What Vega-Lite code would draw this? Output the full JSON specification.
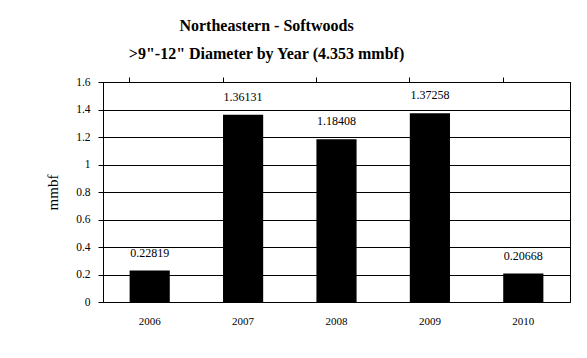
{
  "$schema": "https://vega.github.io/schema/vega-lite/v6.json",
  "autosize": {"type": "none"},
  "width": 467,
  "height": 220,
  "padding": {"left": 103, "top": 82, "right": 17, "bottom": 56},
  "background": "white",
  "title": {
    "text": ["Northeastern - Softwoods", ">9\"-12\" Diameter by Year (4.353 mmbf)"],
    "font": "Liberation Serif",
    "fontSize": 16,
    "fontWeight": "bold",
    "color": "black",
    "anchor": "middle",
    "dx": -70,
    "lineHeight": 28,
    "offset": 14
  },
  "data": {
    "values": [
      {"year": "2006", "mmbf": 0.22819, "label": "0.22819"},
      {"year": "2007", "mmbf": 1.36131, "label": "1.36131"},
      {"year": "2008", "mmbf": 1.18408, "label": "1.18408"},
      {"year": "2009", "mmbf": 1.37258, "label": "1.37258"},
      {"year": "2010", "mmbf": 0.20668, "label": "0.20668"}
    ]
  },
  "encoding": {
    "x": {"field": "year", "type": "nominal", "sort": null,
      "scale": {"paddingInner": 0.57, "paddingOuter": 0.285}},
    "y": {"field": "mmbf", "type": "quantitative",
      "scale": {"domain": [0, 1.6], "nice": false},
      "axis": {"title": "mmbf", "titleFont": "Liberation Serif", "titleFontSize": 15,
        "titleFontWeight": "normal", "titleColor": "black", "titlePadding": 15,
        "values": [0, 0.2, 0.4, 0.6, 0.8, 1, 1.2, 1.4, 1.6], "format": "~g",
        "labelOverlap": false, "labelFlush": false,
        "labelFont": "Liberation Serif", "labelFontSize": 11.5, "labelColor": "black",
        "labelPadding": 8, "tickSize": 5, "tickColor": "black", "domainColor": "black",
        "grid": true, "gridColor": "black", "gridOpacity": 1, "gridWidth": 1}}
  },
  "layer": [
    {
      "mark": {"type": "bar", "color": "black"},
      "encoding": {
        "x": {"field": "year", "type": "nominal", "sort": null,
          "axis": {"title": null, "labelAngle": 0, "ticks": false, "domain": false, "grid": false,
            "labelFont": "Liberation Serif", "labelFontSize": 11, "labelColor": "black",
            "labelPadding": 13}}
      }
    },
    {
      "mark": {"type": "text", "font": "Liberation Serif", "fontSize": 12, "color": "black",
        "baseline": "alphabetic", "dy": -14},
      "encoding": {
        "text": {"field": "label"},
        "x": {"field": "year", "type": "nominal", "sort": null,
          "axis": {"title": null, "labels": false, "ticks": true, "bandPosition": 0,
            "tickSize": 5, "tickColor": "black", "domain": true, "domainColor": "black", "grid": false}}
      }
    }
  ],
  "resolve": {"axis": {"x": "independent"}},
  "config": {
    "view": {"stroke": "black", "strokeWidth": 1},
    "axis": {"domainWidth": 1, "tickWidth": 1}
  }
}
